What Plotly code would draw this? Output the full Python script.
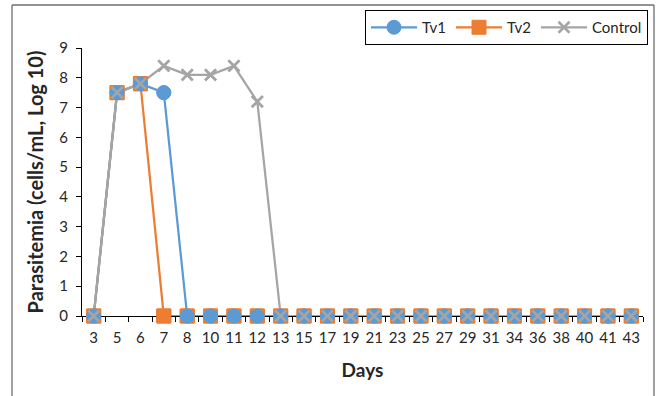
import plotly.graph_objects as go

days = ["3", "5", "6", "7", "8", "10", "11", "12", "13", "15", "17", "19", "21",
        "23", "25", "27", "29", "31", "34", "36", "38", "40", "41", "43"]
tv1 = [0, 7.5, 7.8, 7.5, 0, 0, 0, 0, 0, 0, 0, 0, 0, 0, 0, 0, 0, 0, 0, 0, 0, 0, 0, 0]
tv2 = [0, 7.5, 7.8, 0, 0, 0, 0, 0, 0, 0, 0, 0, 0, 0, 0, 0, 0, 0, 0, 0, 0, 0, 0, 0]
control = [0, 7.5, 7.8, 8.4, 8.1, 8.1, 8.4, 7.2, 0, 0, 0, 0, 0, 0, 0, 0, 0, 0, 0, 0, 0, 0, 0, 0]

C_TV1 = "#5B9BD5"
C_TV2 = "#ED7D31"
C_CTL = "#A5A5A5"
FONT = "Lato"
TXT = "#262626"

series = [
    # name, values, color, symbol, size, rank (drawn bottom to top: Tv2, Tv1, Control)
    ("Tv2", tv2, C_TV2, "square", 14, 2),
    ("Tv1", tv1, C_TV1, "circle", 14, 1),
    ("Control", control, C_CTL, "x-thin", 11, 3),
]

fig = go.Figure()

for name, vals, col, sym, size, rank in series:
    mline = dict(color=col, width=2.5 if sym == "x-thin" else 1)
    fig.add_trace(go.Scatter(
        x=days, y=vals, name=name, mode="lines+markers", legendrank=rank,
        line=dict(color=col, width=2.25),
        marker=dict(symbol=sym, size=size, color=col, line=mline),
        cliponaxis=False, xaxis="x", yaxis="y",
    ))

# markers again on an identical, invisible subplot so they sit above the axis line
for name, vals, col, sym, size, rank in series:
    mline = dict(color=col, width=2.5 if sym == "x-thin" else 1)
    fig.add_trace(go.Scatter(
        x=days, y=vals, name=name, mode="markers", showlegend=False,
        marker=dict(symbol=sym, size=size, color=col, line=mline),
        cliponaxis=False, xaxis="x2", yaxis="y2",
    ))

L, R, T, B = 82, 17, 48, 80
W, H = 660, 396
pw, ph = W - L - R, H - T - B

def px(x):
    return (x - L) / pw

def py(y):
    return (H - B - y) / ph

border = "#6e6e6e"
shapes = [
    dict(type="line", xref="paper", yref="paper", x0=px(12), x1=px(12), y0=py(400), y1=py(5),
         line=dict(color=border, width=1.3)),
    dict(type="line", xref="paper", yref="paper", x0=px(12), x1=px(654), y0=py(5), y1=py(5),
         line=dict(color=border, width=1.3)),
    dict(type="line", xref="paper", yref="paper", x0=px(654), x1=px(654), y0=py(5), y1=py(400),
         line=dict(color=border, width=1.3)),
]

fig.update_layout(
    width=W, height=H,
    margin=dict(l=L, r=R, t=T, b=B, autoexpand=False),
    paper_bgcolor="white",
    plot_bgcolor="rgba(0,0,0,0)",
    font=dict(family=FONT, size=15, color=TXT),
    showlegend=True,
    legend=dict(orientation="h", x=px(365), y=py(10), xanchor="left", yanchor="top",
                bordercolor="black", borderwidth=1, font=dict(size=15, color=TXT),
                itemwidth=46, traceorder="normal"),
    shapes=shapes,
    xaxis=dict(type="category", categoryorder="array", categoryarray=days,
               range=[-0.5, len(days) - 0.5], domain=[0, 1], anchor="y",
               showline=True, linecolor="black", linewidth=1, tickangle=0,
               ticks="outside", tickson="boundaries", ticklen=5, tickcolor="black",
               showgrid=False, zeroline=False, layer="above traces", automargin=False,
               tickfont=dict(size=15), ticklabelstandoff=8,
               title=dict(text="<b>Days</b>", font=dict(size=19), standoff=18)),
    yaxis=dict(range=[0, 9], dtick=1, domain=[0, 1], anchor="x",
               showline=True, linecolor="black", linewidth=1,
               ticks="outside", ticklen=5, tickcolor="black",
               showgrid=False, zeroline=False, layer="above traces", automargin=False,
               tickfont=dict(size=15), ticklabelstandoff=5,
               title=dict(text="<b>Parasitemia (cells/mL, Log 10)</b>", font=dict(size=20), standoff=10)),
    xaxis2=dict(type="category", categoryorder="array", categoryarray=days,
                range=[-0.5, len(days) - 0.5], domain=[0, 1], anchor="y2", visible=False),
    yaxis2=dict(range=[0, 9], domain=[0, 1], anchor="x2", visible=False),
)

fig.write_html("out.html", config={"displayModeBar": False},
               post_script="document.body.style.margin='0';")
